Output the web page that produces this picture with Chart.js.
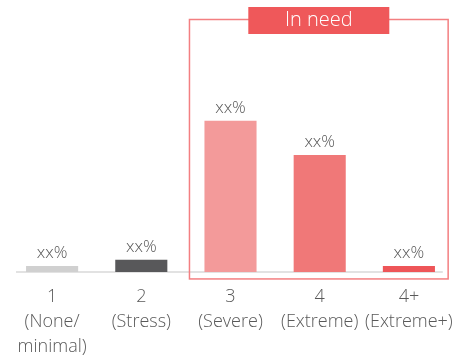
<!DOCTYPE html>
<html>
<head>
<meta charset="utf-8">
<script src="https://cdn.jsdelivr.net/npm/chart.js@4"></script>
<style>
  html, body { margin: 0; padding: 0; background: #ffffff; }
  #wrap { width: 470px; height: 358px; position: relative; }
</style>
</head>
<body>
<div id="wrap"><canvas id="c" width="470" height="358"></canvas></div>
<script>
const categories = [
  ["1", "(None/", "minimal)"],
  ["2", "(Stress)"],
  ["3", "(Severe)"],
  ["4", "(Extreme)"],
  ["4+", "(Extreme+)"]
];
const values = [2.0, 4.0, 50.0, 38.7, 2.0];
const valueLabels = ["xx%", "xx%", "xx%", "xx%", "xx%"];
const barColors = ["#D0D0D0", "#58585A", "#F39A9A", "#F07878", "#EE5558"];
const boxTitle = "In need";
const boxFirstIndex = 2;

const FONT = "'Open Sans', 'DejaVu Sans', sans-serif";
const TEXT = "#595959";

const overlay = {
  id: "overlay",
  beforeDatasetsDraw(chart) {
    const { ctx, chartArea, scales } = chart;
    const x = scales.x, y = scales.y;
    const step = x.getPixelForValue(1) - x.getPixelForValue(0);
    const base = y.getPixelForValue(0);
    ctx.save();
    ctx.strokeStyle = "#D9D9D9";
    ctx.lineWidth = 1.5;
    ctx.beginPath();
    ctx.moveTo(x.getPixelForValue(0) - step * 0.405, base);
    ctx.lineTo(x.getPixelForValue(categories.length - 1) + step * 0.38, base);
    ctx.stroke();
    ctx.restore();
  },
  afterDatasetsDraw(chart) {
    const { ctx, chartArea, scales } = chart;
    const x = scales.x, y = scales.y;
    const step = x.getPixelForValue(1) - x.getPixelForValue(0);
    const base = y.getPixelForValue(0);
    const meta = chart.getDatasetMeta(0);
    ctx.save();
    ctx.fillStyle = TEXT;
    ctx.font = "300 17px " + FONT;
    ctx.textAlign = "center";
    ctx.textBaseline = "middle";
    meta.data.forEach((bar, i) => {
      ctx.fillText(valueLabels[i], bar.x, bar.y - 13);
    });
    ctx.restore();
    const left = x.getPixelForValue(boxFirstIndex) - step * 0.46;
    const right = x.getPixelForValue(categories.length - 1) + step * 0.44;
    const top = chartArea.top - 10.5;
    const bottom = base + 7;
    ctx.save();
    ctx.strokeStyle = "#F37F81";
    ctx.lineWidth = 1.5;
    ctx.strokeRect(left, top, right - left, bottom - top);
    const cx = (left + right) / 2;
    const lw = 141, lh = 27;
    ctx.fillStyle = "#EF585A";
    ctx.fillRect(cx - lw / 2, top - 12.5, lw, lh);
    ctx.fillStyle = "#FFFFFF";
    ctx.font = "300 20px " + FONT;
    ctx.textAlign = "center";
    ctx.textBaseline = "middle";
    ctx.fillText(boxTitle, cx, top + 1);
    ctx.restore();
  }
};

new Chart(document.getElementById("c"), {
  type: "bar",
  data: {
    labels: categories,
    datasets: [{
      data: values,
      backgroundColor: barColors,
      borderWidth: 0,
      barPercentage: 0.584,
      categoryPercentage: 1.0
    }]
  },
  options: {
    responsive: false,
    animation: false,
    devicePixelRatio: 1,
    layout: { padding: { left: 7.5, right: 16.5, top: 30, bottom: -13 } },
    plugins: { legend: { display: false }, tooltip: { enabled: false } },
    scales: {
      x: {
        grid: { display: false, drawTicks: false },
        border: { display: false },
        ticks: {
          color: TEXT,
          padding: 12,
          maxRotation: 0,
          autoSkip: false,
          font: { family: FONT, size: 18, weight: 300, lineHeight: 1.39 }
        }
      },
      y: {
        display: false,
        min: 0,
        max: 80
      }
    }
  },
  plugins: [overlay]
});
</script>
</body>
</html>
